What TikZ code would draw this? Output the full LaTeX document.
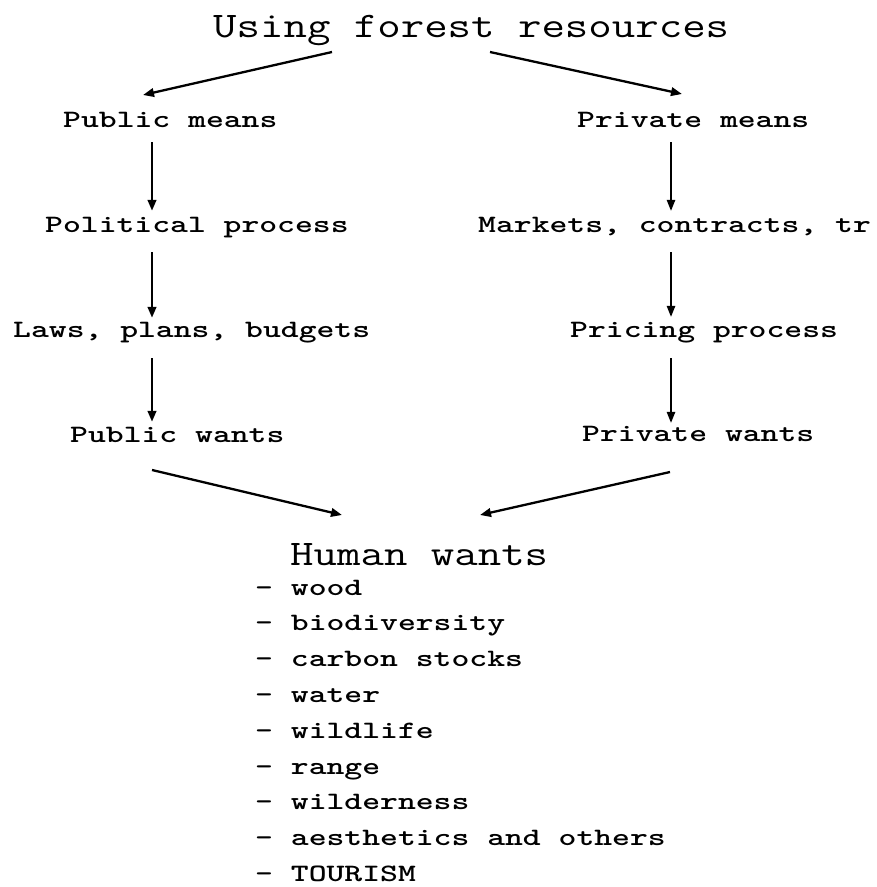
\documentclass[tikz,border=0pt]{standalone}
\usepackage{fontspec}
\usepackage{graphicx}
\usetikzlibrary{arrows.meta}

% typewriter text widened to a Courier-like set width
\newcommand\wide[2]{\scalebox{#1}[1]{#2}}

\begin{document}
\begin{tikzpicture}[x=1pt,y=-1pt,
  heading/.style={inner sep=0pt, anchor=base west,
    font=\ttfamily\fontsize{36}{40}\selectfont, text height=22pt, text depth=0pt},
  lbl/.style={inner sep=0pt, anchor=base west,
    font=\ttfamily\bfseries\fontsize{25}{30}\selectfont, text height=15pt, text depth=0pt},
  tip/.style={-{Triangle[length=11pt,width=8.5pt]}},
  thickarr/.style={tip, line width=2.6pt},
  thinarr/.style={tip, line width=1.3pt},
  slantarr/.style={tip, line width=2.3pt},
]
\path[use as bounding box, fill=white] (0,0) rectangle (877,887);

% arrow columns
\coordinate (colL) at (152,0);
\coordinate (colR) at (671,0);

% title
\node[heading] (title) at (213,37) {\wide{1.265}{Using forest resources}};

% public branch
\node[lbl] (pubm)  at (63,127)  {\wide{1.36}{Public means}};
\node[lbl] (polp)  at (45,232)  {\wide{1.36}{Political process}};
\node[lbl] (laws)  at (13,337)  {\wide{1.36}{Laws, plans, budgets}};
\node[lbl] (pubw)  at (70,442)  {\wide{1.36}{Public wants}};

% private branch
\node[lbl] (privm) at (577,127) {\wide{1.36}{Private means}};
\node[lbl] (mkt)   at (478,232) {\wide{1.36}{Markets, contracts, tr}};
\node[lbl] (pric)  at (570,337) {\wide{1.36}{Pricing process}};
\node[lbl] (privw) at (582,441) {\wide{1.36}{Private wants}};

% outcome
\node[heading] (human) at (290,565) {\wide{1.265}{Human wants}};

% list of wants
\foreach \txt [count=\i] in {wood, biodiversity, carbon stocks, water, wildlife,
    range, wilderness, aesthetics and others, TOURISM}
  \node[lbl] (want\i) at (255,{595+35.8*(\i-1)}) {\wide{1.36}{- \txt}};

% split from the title
\draw[slantarr] ([shift={(119,15)}]title.base west) -- ([shift={(80,-32)}]pubm.base west);
\draw[slantarr] ([shift={(277,15)}]title.base west) -- ([shift={(105,-33)}]privm.base west);

% public chain
\draw[thickarr, shorten <=15pt, shorten >=6pt] (pubm.south -| colL) -- (polp.north -| colL);
\draw[thickarr, shorten <=20pt, shorten >=4pt] (polp.south -| colL) -- (laws.north -| colL);
\draw[thickarr, shorten <=21pt, shorten >=5pt] (laws.south -| colL) -- (pubw.north -| colL);

% private chain
\draw[thinarr, shorten <=15pt, shorten >=6pt] (privm.south -| colR) -- (mkt.north -| colR);
\draw[thinarr, shorten <=20pt, shorten >=5pt] (mkt.south -| colR) -- (pric.north -| colR);
\draw[thinarr, shorten <=21pt, shorten >=3pt] (pric.south -| colR) -- (privw.north -| colR);

% merge into human wants
\draw[slantarr] ([shift={(82,28)}]pubw.base west) -- ([shift={(52,-50)}]human.base west);
\draw[slantarr] ([shift={(88,31)}]privw.base west) -- ([shift={(190,-50)}]human.base west);
\end{tikzpicture}
\end{document}
